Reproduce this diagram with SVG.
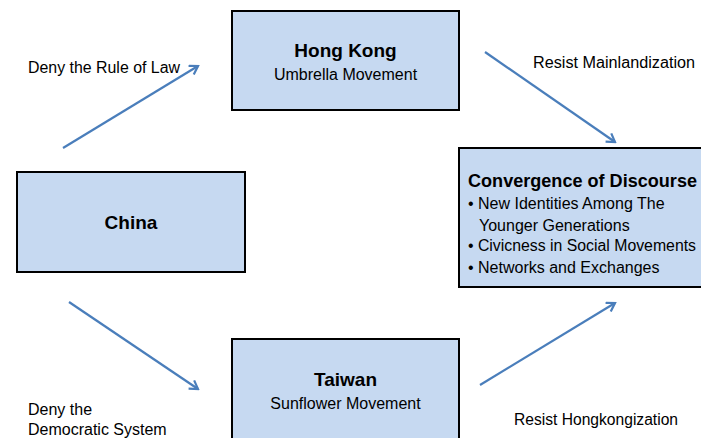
<svg xmlns="http://www.w3.org/2000/svg" width="701" height="438" viewBox="0 0 701 438">
<defs>
<style>
.box{fill:#c6d9f1;stroke:#000;stroke-width:2}
.t{font-family:"Liberation Sans",Arial,sans-serif;fill:#000}
.b{font-weight:bold;font-size:19px}
.s{font-size:16px}
.c{stroke:#4a7ebb;stroke-width:2.2;fill:none;marker-end:url(#ah)}
</style>
<marker id="ah" viewBox="0 0 12 12" refX="10" refY="6" markerWidth="12" markerHeight="12" markerUnits="userSpaceOnUse" orient="auto">
<path d="M2,1 L10,6 L2,11" fill="none" stroke="#4a7ebb" stroke-width="2.2"/>
</marker>
</defs>
<rect width="701" height="438" fill="#fff"/>
<g id="connectors">
<line class="c" x1="63" y1="148" x2="198" y2="66"/>
<line class="c" x1="485" y1="52" x2="615" y2="142"/>
<line class="c" x1="69" y1="302" x2="198" y2="389"/>
<line class="c" x1="480" y1="385" x2="615" y2="303"/>
</g>
<g id="labels">
<text class="t s" x="28" y="73" textLength="152" lengthAdjust="spacingAndGlyphs">Deny the Rule of Law</text>
<text class="t s" x="533" y="68" textLength="162" lengthAdjust="spacingAndGlyphs">Resist Mainlandization</text>
<text class="t s" x="28" y="415">Deny the</text>
<text class="t s" x="28" y="435">Democratic System</text>
<text class="t s" x="514" y="425" textLength="164" lengthAdjust="spacingAndGlyphs">Resist Hongkongization</text>
</g>
<g id="hongkong">
<rect class="box" x="232" y="11" width="227" height="99"/>
<text class="t b" x="345.5" y="57" text-anchor="middle">Hong Kong</text>
<text class="t s" x="345.5" y="80" text-anchor="middle">Umbrella Movement</text>
</g>
<g id="china">
<rect class="box" x="17" y="172" width="228" height="100"/>
<text class="t b" x="131" y="229" text-anchor="middle">China</text>
</g>
<g id="taiwan">
<rect class="box" x="232" y="339" width="227" height="101"/>
<text class="t b" x="345.5" y="386" text-anchor="middle">Taiwan</text>
<text class="t s" x="345.5" y="409" text-anchor="middle">Sunflower Movement</text>
</g>
<g id="convergence">
<rect class="box" x="459" y="148" width="250" height="139"/>
<text class="t b" x="468" y="187" style="font-size:18px" textLength="229" lengthAdjust="spacingAndGlyphs">Convergence of Discourse</text>
<text class="t s" x="468" y="209">• New Identities Among The</text>
<text class="t s" x="479" y="231">Younger Generations</text>
<text class="t s" x="468" y="251" textLength="228" lengthAdjust="spacingAndGlyphs">• Civicness in Social Movements</text>
<text class="t s" x="468" y="273">• Networks and Exchanges</text>
</g>
</svg>
